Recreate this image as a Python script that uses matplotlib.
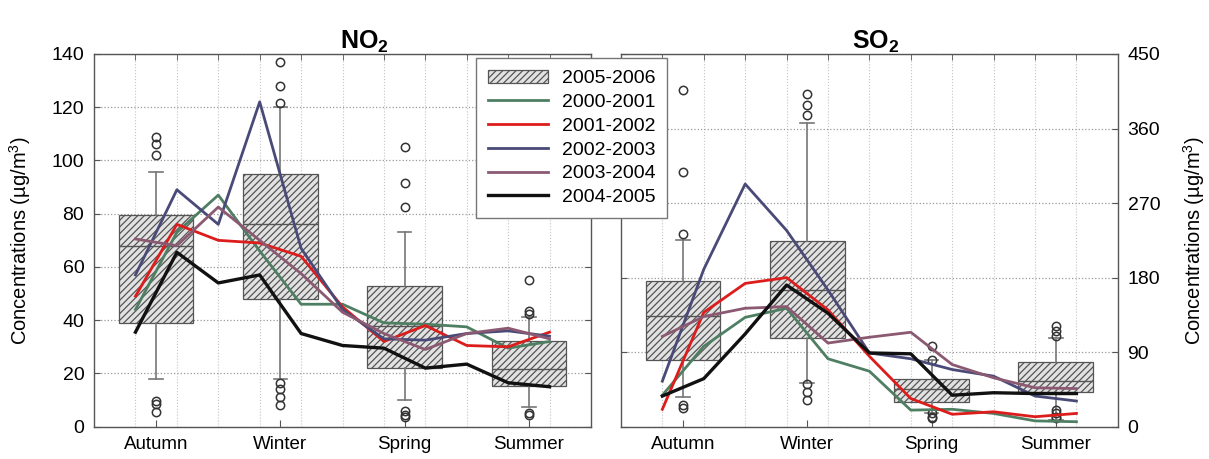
import numpy as np
import matplotlib
matplotlib.use("Agg")
import matplotlib.pyplot as plt
from matplotlib.patches import Patch
from matplotlib.ticker import FixedLocator

plt.rcParams["font.family"] = ["Liberation Sans", "DejaVu Sans"]
plt.rcParams["mathtext.fontset"] = "custom"
plt.rcParams["mathtext.rm"] = "Liberation Sans"
plt.rcParams["mathtext.bf"] = "Liberation Sans:bold"
plt.rcParams["hatch.linewidth"] = 0.9

seasons = ["Autumn", "Winter", "Spring", "Summer"]
series_labels = ["2000-2001", "2001-2002", "2002-2003", "2003-2004", "2004-2005"]
box_label = "2005-2006"
colors = ["#4f7f62", "#dd1c1c", "#4a4a78", "#8b5a72", "#111111"]

# monthly values, Sep..Jul (11 points)
no2_lines = [
    [44, 73, 87, 66, 46, 46, 39, 38.5, 37.5, 29.5, 32],
    [49, 76, 70, 69, 64, 45, 32, 38, 30.5, 30, 35.5],
    [57, 89, 76, 122, 67, 44, 33, 32.5, 35, 36, 34],
    [70.5, 68, 82.5, 70, 57.5, 43, 35, 29, 35, 37, 33],
    [35.5, 65.5, 54, 57, 35, 30.5, 29.5, 22, 23.5, 16.5, 15],
]
so2_lines = [
    [38, 97, 132, 143, 82, 67, 20, 21, 16, 7, 6],
    [21, 138, 173, 180, 141, 85, 34, 15, 18, 12, 16],
    [55, 190, 293, 237, 165, 89, 82, 69, 61, 37, 31],
    [109, 133, 143, 145, 101, 108, 114, 75, 59, 47, 46],
    [37, 58, 112, 171, 137, 89, 88, 38, 41, 40, 40],
]

# 2005-2006 box statistics per season
no2_q1 = [38.8, 48, 22, 15.3]
no2_med = [68, 76, 38, 21.5]
no2_q3 = [79.5, 94.8, 53, 32.2]
no2_lo = [18, 18, 10, 7.5]
no2_hi = [95.5, 120, 73, 41.3]
no2_fliers = [
    [109, 106, 102, 9.8, 8.5, 5.5],
    [137, 128, 121.5, 16.5, 14, 11, 8],
    [105, 91.5, 82.5, 6, 4.5, 3.8],
    [55, 43.5, 42.5, 5.3, 4.5],
]
so2_q1 = [80, 107.5, 29.5, 41.5]
so2_med = [134, 165, 45.5, 55.5]
so2_q3 = [176, 224, 57.5, 77.7]
so2_lo = [36, 53, 16, 8]
so2_hi = [226, 367, 81, 107]
so2_fliers = [
    [406, 308, 233, 26, 22],
    [402, 388, 376, 52, 42, 32],
    [97, 81, 16, 12, 10],
    [121, 115, 110, 20, 16, 12, 10],
]

season_x = np.arange(1, 5)
month_x = 0.5 + np.arange(1, 12) / 3.0

fig = plt.figure(figsize=(12.09, 4.59), dpi=100)
ax1 = fig.add_axes([0.0778, 0.0704, 0.411, 0.812])
ax2 = fig.add_axes([0.5136, 0.0704, 0.411, 0.812])


def draw_panel(ax, lines, q1, med, q3, lo, hi, fliers, ymax, ystep):
    stats = []
    for i in range(4):
        stats.append(dict(q1=q1[i], med=med[i], q3=q3[i], whislo=lo[i],
                          whishi=hi[i], fliers=fliers[i]))
    ax.bxp(stats, positions=season_x, widths=0.6, capwidths=0.11,
           patch_artist=True, manage_ticks=False,
           boxprops=dict(facecolor="#e2e2e2", edgecolor="#555555",
                         hatch="/////", linewidth=0.9),
           medianprops=dict(color="#555555", linewidth=1.0),
           whiskerprops=dict(color="#777777", linewidth=1.2),
           capprops=dict(color="#777777", linewidth=1.2),
           flierprops=dict(marker="o", markerfacecolor="none",
                           markeredgecolor="#333333", markersize=6,
                           markeredgewidth=1.1))
    handles = []
    for vals, c, lab in zip(lines, colors, series_labels):
        lw = 2.4 if c == "#111111" else 2.0
        h, = ax.plot(month_x, vals, color=c, lw=lw, label=lab, zorder=5)
        handles.append(h)

    ax.set_xlim(0.5, 4.5)
    ax.set_ylim(0, ymax)
    ax.set_xticks(season_x)
    ax.set_xticklabels(seasons, fontsize=13.5)
    ax.xaxis.set_minor_locator(FixedLocator(month_x))
    ax.set_yticks(np.arange(0, ymax + 1, ystep))
    ax.tick_params(axis="y", labelsize=14, direction="in", length=4,
                   left=True, right=True, color="#555555", pad=7)
    ax.tick_params(axis="x", which="major", direction="in", length=5,
                   top=False, color="#555555", pad=7)
    ax.tick_params(axis="x", which="minor", direction="in", length=4,
                   top=True, bottom=False, color="#555555")
    ax.grid(axis="y", which="major", linestyle=":", color="#999999", lw=0.9)
    ax.grid(axis="x", which="minor", linestyle=":", color="#c4c4c4", lw=0.8)
    ax.set_axisbelow(True)
    for s in ax.spines.values():
        s.set_color("#555555")
        s.set_linewidth(1.0)
    return handles


handles = draw_panel(ax1, no2_lines, no2_q1, no2_med, no2_q3, no2_lo,
                     no2_hi, no2_fliers, 140, 20)
draw_panel(ax2, so2_lines, so2_q1, so2_med, so2_q3, so2_lo, so2_hi,
           so2_fliers, 450, 90)

ax1.set_title("NO$_\\mathbf{2}$", fontsize=18, fontweight="bold", x=0.545, pad=4)
ax2.set_title("SO$_\\mathbf{2}$", fontsize=18, fontweight="bold", x=0.513, pad=4)

ax1.set_ylabel("Concentrations (\u00b5g/m$^3$)", fontsize=14.5)
ax1.yaxis.set_label_coords(-0.122, 0.5)
ax2.yaxis.tick_right()
ax2.tick_params(axis="y", left=True, right=True)
ax2.yaxis.set_label_position("right")
ax2.set_ylabel("Concentrations (\u00b5g/m$^3$)", fontsize=14.5)
ax2.yaxis.set_label_coords(1.128, 0.5)

box_handle = Patch(facecolor="#e2e2e2", edgecolor="#555555", hatch="/////",
                   linewidth=0.9, label=box_label)
fig.legend(handles=[box_handle] + handles, loc="upper left",
           bbox_to_anchor=(0.3937, 0.874), borderaxespad=0, fontsize=14,
           frameon=True, fancybox=False, edgecolor="#777777", framealpha=1,
           handlelength=3.1, handletextpad=0.7, labelspacing=0.32,
           borderpad=0.6)

fig.savefig("out.png", dpi=100)
